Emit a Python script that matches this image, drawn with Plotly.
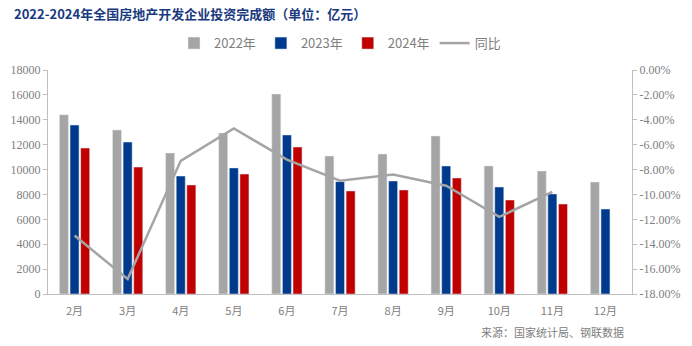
import plotly.graph_objects as go

months = ["2月", "3月", "4月", "5月", "6月", "7月", "8月", "9月", "10月", "11月", "12月"]
v2022 = [14400, 13180, 11330, 12940, 16070, 11090, 11250, 12700, 10290, 9880, 9000]
v2023 = [13580, 12210, 9480, 10130, 12780, 9030, 9080, 10290, 8600, 8040, 6830]
v2024 = [11730, 10200, 8760, 9640, 11810, 8280, 8360, 9320, 7550, 7230, None]
yoy = [-13.3, -16.8, -7.3, -4.7, -7.2, -8.9, -8.4, -9.3, -11.8, -9.8, None]

left_ticks = [0, 2000, 4000, 6000, 8000, 10000, 12000, 14000, 16000, 18000]
left_labels = [str(v) for v in left_ticks]
right_ticks = [0, -2, -4, -6, -8, -10, -12, -14, -16, -18]
right_labels = ["0.00%", "-2.00%", "-4.00%", "-6.00%", "-8.00%", "-10.00%",
                "-12.00%", "-14.00%", "-16.00%", "-18.00%"]

tick_font = dict(family="Liberation Serif", size=12, color="#808080")

fig = go.Figure()
fig.add_bar(x=months, y=v2022, name="2022年", marker_color="#A5A5A5")
fig.add_bar(x=months, y=v2023, name="2023年", marker_color="#003A8C")
fig.add_bar(x=months, y=v2024, name="2024年", marker_color="#C00000")
fig.add_scatter(x=months, y=yoy, name="同比", mode="lines", yaxis="y2",
                line=dict(color="#A5A5A5", width=2.5), connectgaps=False)

fig.update_layout(
    width=692, height=346,
    margin=dict(l=48, r=60, t=70, b=52),
    plot_bgcolor="white", paper_bgcolor="white",
    barmode="group", bargap=0.4, bargroupgap=0.15,
    showlegend=True,
    legend=dict(orientation="h", x=0.5, xanchor="center", y=1.12, yanchor="middle",
                font=dict(family="Noto Sans CJK SC", size=13, color="#808080"),
                itemwidth=30, traceorder="normal"),
    xaxis=dict(showline=True, linecolor="#BFBFBF", linewidth=1, ticks="",
               ticklabelstandoff=7,
               tickfont=dict(family="Noto Sans CJK SC", size=11, color="#808080"),
               showgrid=False, zeroline=False),
    yaxis=dict(range=[0, 18000], tickvals=left_ticks, ticktext=left_labels,
               showgrid=False, zeroline=False,
               showline=True, linecolor="#BFBFBF", ticks="outside", ticklen=4,
               tickcolor="#BFBFBF", tickfont=tick_font),
    yaxis2=dict(range=[-18, 0], overlaying="y", side="right", tickvals=right_ticks,
                ticktext=right_labels, showgrid=False, zeroline=False,
                showline=True, linecolor="#BFBFBF", ticks="outside", ticklen=4,
                tickcolor="#BFBFBF", tickfont=tick_font),
    annotations=[
        dict(text="<b>2022-2024年全国房地产开发企业投资完成额（单位：亿元）</b>",
             xref="paper", yref="paper", x=0, y=1, xshift=-36, yshift=57,
             xanchor="left", yanchor="middle",
             showarrow=False, font=dict(family="Noto Sans CJK SC", size=13, color="#1A3A80")),
        dict(text="来源：国家统计局、钢联数据", xref="paper", yref="paper",
             x=0.99, y=0, yshift=-38, xanchor="right", yanchor="middle", showarrow=False,
             font=dict(family="Noto Sans CJK SC", size=11, color="#808080")),
    ],
)

fig.write_html("out.html")
